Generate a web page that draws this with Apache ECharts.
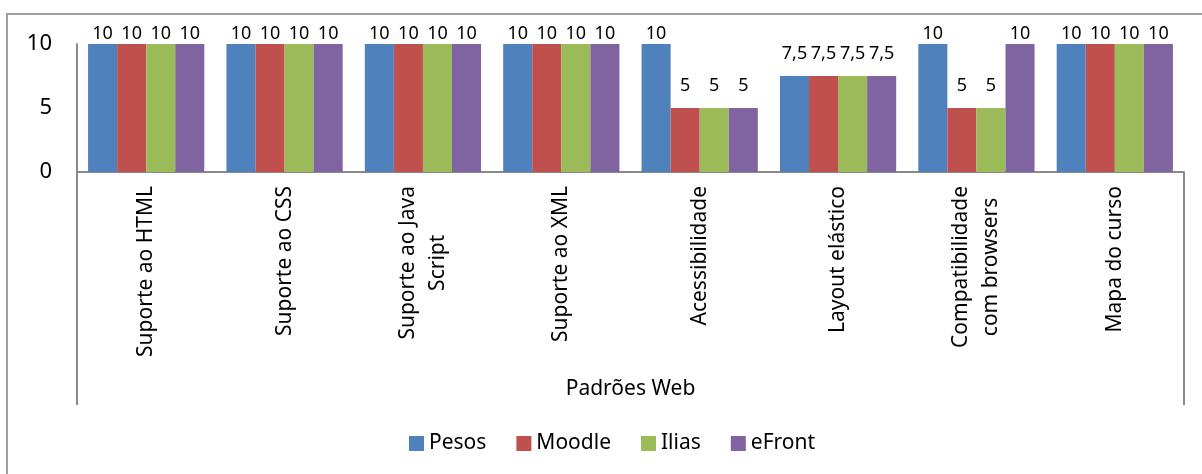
<!DOCTYPE html>
<html>
<head>
<meta charset="utf-8">
<script src="https://cdn.jsdelivr.net/npm/echarts@6/dist/echarts.min.js"></script>
<style>
html,body{margin:0;padding:0;background:#fff;}
#chart{width:1202px;height:474px;}
</style>
</head>
<body>
<div id="chart"></div>
<script>
var categories = ['Suporte ao HTML','Suporte ao CSS','Suporte ao Java\nScript','Suporte ao XML','Acessibilidade','Layout elástico','Compatibilidade\ncom browsers','Mapa do curso'];
var seriesNames = ['Pesos','Moodle','Ilias','eFront'];
var pesos  = [10,10,10,10,10,7.5,10,10];
var moodle = [10,10,10,10,5,7.5,5,10];
var ilias  = [10,10,10,10,5,7.5,5,10];
var efront = [10,10,10,10,5,7.5,10,10];
var yTicks = [0,5,10];
var groupLabel = 'Padrões Web';

var colors = ['#4F81BD','#C0504D','#9BBB59','#8064A2'];
var FONT = 'Noto Sans';
var GL = 77, GR = 1184, GT = 44, GB = 172, SEP_BOTTOM = 405;
var axisColor = '#8a8a8a';
var yMax = yTicks[yTicks.length-1];

var chart = echarts.init(document.getElementById('chart'), null, {renderer:'canvas'});
var dataSets = [pesos, moodle, ilias, efront];
var series = dataSets.map(function(d, i){
  return {
    name: seriesNames[i],
    type: 'bar',
    data: d.map(function(v){
      return {value: v, label: {distance: v >= yMax ? 1 : 13}};
    }),
    barGap: '0%',
    barCategoryGap: '16%',
    itemStyle: {color: colors[i]},
    label: {
      show: true, position: 'top',
      fontFamily: FONT, fontSize: 18, color: '#000',
      formatter: function(p){ return String(p.value).replace('.', ','); }
    }
  };
});

chart.setOption({
  animation: false,
  grid: {left: GL, right: 1202 - GR, top: GT, bottom: 474 - GB, containLabel: false},
  legend: {
    data: seriesNames, left: 404, top: 428,
    itemWidth: 15, itemHeight: 15, itemGap: 30,
    icon: 'rect',
    textStyle: {fontFamily: FONT, fontSize: 21, color: '#000'}
  },
  xAxis: {
    type: 'category', data: categories,
    axisLine: {show: true, lineStyle: {color: axisColor, width: 2}},
    axisTick: {show: false},
    axisLabel: {
      rotate: 90, margin: 14, interval: 0,
      formatter: function(v){ return v.split('\n').map(function(l){ return '{c|' + l + '}'; }).join('\n'); },
      rich: {c: {align: 'center', fontFamily: FONT, fontSize: 21, color: '#000', lineHeight: 30}}
    }
  },
  yAxis: {
    type: 'value', min: yTicks[0], max: yMax, interval: yTicks[1]-yTicks[0],
    axisLine: {show: true, lineStyle: {color: axisColor, width: 2}},
    axisTick: {show: false},
    splitLine: {show: false},
    axisLabel: {margin: 25, fontFamily: FONT, fontSize: 22, color: '#000'}
  },
  graphic: [
    {type: 'rect', shape: {x: 7, y: 14, width: 1210, height: 480}, style: {fill: null, stroke: '#a0a0a0', lineWidth: 2}, silent: true},
    {type: 'line', shape: {x1: GL, y1: GB, x2: GL, y2: SEP_BOTTOM}, style: {stroke: axisColor, lineWidth: 2}},
    {type: 'line', shape: {x1: GR, y1: GB, x2: GR, y2: SEP_BOTTOM}, style: {stroke: axisColor, lineWidth: 2}},
    {type: 'text', x: (GL + GR) / 2, y: 389, style: {text: groupLabel, fontFamily: FONT, fontSize: 21, fill: '#000', align: 'center', verticalAlign: 'middle'}}
  ],
  series: series
});
</script>
</body>
</html>
